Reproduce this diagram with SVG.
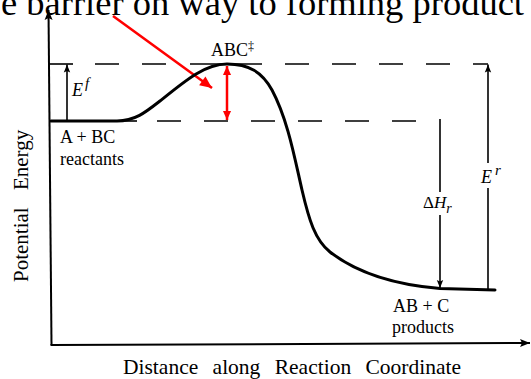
<svg xmlns="http://www.w3.org/2000/svg" width="531" height="379" viewBox="0 0 531 379">
<defs>
<marker id="ah" viewBox="0 0 10 10" refX="10" refY="5" markerWidth="10" markerHeight="10" markerUnits="userSpaceOnUse" orient="auto">
<path d="M0,1 L10,5 L0,9 L2,5 Z" fill="#000"/>
</marker>
<marker id="ahs" viewBox="0 0 10 10" refX="10" refY="5" markerWidth="9" markerHeight="8" markerUnits="userSpaceOnUse" orient="auto">
<path d="M0,1 L10,5 L0,9 L2,5 Z" fill="#000"/>
</marker>
<marker id="ahr" viewBox="0 0 10 10" refX="10" refY="5" markerWidth="10" markerHeight="9" markerUnits="userSpaceOnUse" orient="auto-start-reverse">
<path d="M0,0.5 L10,5 L0,9.5 Z" fill="#f00"/>
</marker>
<marker id="ahr2" viewBox="0 0 10 10" refX="10" refY="5" markerWidth="14" markerHeight="12" markerUnits="userSpaceOnUse" orient="auto">
<path d="M0,0.5 L10,5 L0,9.5 Z" fill="#f00"/>
</marker>
</defs>
<style>
.t{font-family:"Liberation Serif","Times New Roman",serif;fill:#000}
.lbl{font-size:18px}
.it{font-style:italic}
.ax{stroke:#000;stroke-width:2;fill:none}
.dash{stroke:#000;stroke-width:1.6;fill:none;stroke-dasharray:24 23}
.thin{stroke:#000;stroke-width:1.6;fill:none}
.curve{stroke:#000;stroke-width:3;fill:none;stroke-linecap:round}
.red{stroke:#f00;stroke-width:2.5;fill:none}
</style>
<rect width="531" height="379" fill="#fff"/>
<text id="title" class="t" x="1" y="15" font-size="36.5">e barrier on way to forming product</text>
<g id="connectors">
<line id="yaxis" class="ax" x1="51.5" y1="345" x2="48.5" y2="10" marker-end="url(#ah)"/>
<line id="xaxis" class="ax" x1="50.5" y1="345" x2="530" y2="343" marker-end="url(#ah)"/>
<line class="thin" x1="49" y1="64" x2="73" y2="64"/>
<line class="dash" x1="95" y1="64" x2="167" y2="64"/>
<line class="thin" x1="190" y1="64" x2="262" y2="64"/>
<line class="dash" x1="285" y1="64" x2="488" y2="64"/>
<line class="dash" x1="117" y1="121" x2="137" y2="121" style="stroke-dasharray:none"/>
<line class="dash" x1="157" y1="121" x2="422" y2="121"/>
<line id="ef" class="thin" x1="67" y1="121" x2="67" y2="64.5" marker-end="url(#ahs)"/>
<line id="er-top" class="thin" x1="488" y1="163" x2="488" y2="64.5" marker-end="url(#ahs)"/>
<line id="er-bot" class="thin" x1="488" y1="188" x2="488" y2="290"/>
<line id="dh-top" class="thin" x1="440" y1="119" x2="440" y2="192"/>
<line id="dh-bot" class="thin" x1="440" y1="215" x2="440" y2="288" marker-end="url(#ahs)"/>
<line id="red-dbl" class="red" x1="227" y1="66" x2="227" y2="120" marker-start="url(#ahr)" marker-end="url(#ahr)"/>
<line id="red-diag" class="red" x1="113" y1="16" x2="212" y2="88" marker-end="url(#ahr2)"/>
</g>
<g id="curve">
<path class="curve" d="M51,121 H117 C135,121 146,112 160,101 C186,80 205,64 227,64 C249,64 262,72 272,90 C288,120 295,160 302,190 C309,220 315,240 330,252 C352,269 385,284 440,288.5 L495,290"/>
</g>
<g id="ylabel"><text class="t" font-size="21" word-spacing="12" transform="translate(28,282) rotate(-90)">Potential Energy</text></g>
<g id="xlabel"><text class="t" x="123" y="374" font-size="21.5" word-spacing="9">Distance along Reaction Coordinate</text></g>
<g id="ts"><text class="t lbl" x="211" y="56">ABC<tspan font-size="12" dy="-6">‡</tspan></text></g>
<g id="reactants"><text class="t lbl" x="60" y="143">A + BC</text><text class="t lbl" x="60" y="165">reactants</text></g>
<g id="products"><text class="t lbl" x="393" y="312">AB + C</text><text class="t lbl" x="392" y="333">products</text></g>
<g id="ef-label"><text class="t lbl it" x="72" y="96">E<tspan font-size="15" dx="2" dy="-8">f</tspan></text></g>
<g id="er-label"><text class="t lbl it" x="481" y="183">E<tspan font-size="15" dx="3" dy="-8">r</tspan></text></g>
<g id="dh-label"><text class="t" font-size="17" x="423" y="208">Δ<tspan class="it">H</tspan><tspan class="it" font-size="14" dy="5">r</tspan></text></g>
</svg>
